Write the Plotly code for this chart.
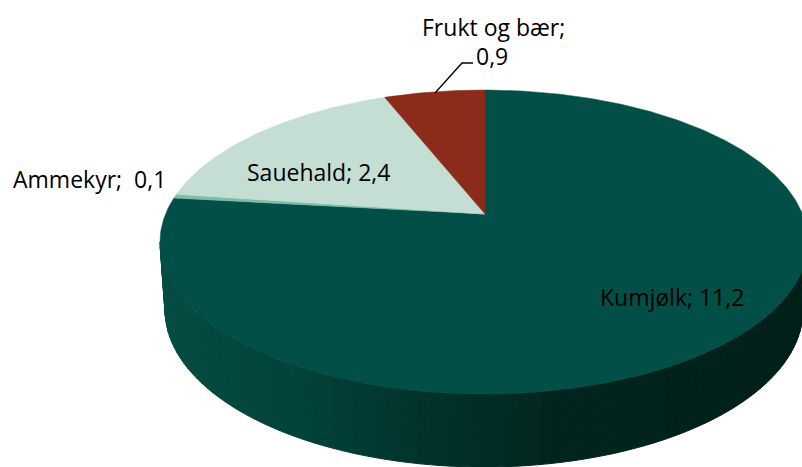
import numpy as np
import plotly.graph_objects as go

categories = ["Kumjølk", "Ammekyr", "Sauehald", "Frukt og bær"]
values = [11.2, 0.06, 2.44, 0.9]
value_labels = ["11,2", "0,1", "2,4", "0,9"]
colors = ["#014f46", "#7dbda5", "#c5ded4", "#8b2b1a"]

W, H = 802, 467
APEX = (485.0, 214.0)
TOP = dict(cx=484.0, cy=242.0, rx=324.0, ry=152.0)
BOT = dict(cx=484.0, cy=310.0, rx=319.0, ry=157.0)
TILT = 2.11


def ray_to_rim(theta):
    """Screen point on the top rim for a pie angle (clockwise from 12 o'clock)."""
    dx, dy = TILT * np.sin(theta), -np.cos(theta)
    ox, oy = (APEX[0] - TOP["cx"]) / TOP["rx"], (APEX[1] - TOP["cy"]) / TOP["ry"]
    ux, uy = dx / TOP["rx"], dy / TOP["ry"]
    a = ux * ux + uy * uy
    b = 2 * (ox * ux + oy * uy)
    c = ox * ox + oy * oy - 1
    t = (-b + np.sqrt(b * b - 4 * a * c)) / (2 * a)
    return APEX[0] + t * dx, APEX[1] + t * dy


def ellipse(e, t):
    return e["cx"] + e["rx"] * np.cos(t), e["cy"] + e["ry"] * np.sin(t)


def wall_color(x):
    stops_x = [160, 300, 400, 480, 560, 802]
    r = np.interp(x, stops_x, [4, 2, 1, 1, 1, 1])
    g = np.interp(x, stops_x, [76, 66, 54, 45, 37, 31])
    b = np.interp(x, stops_x, [66, 57, 47, 39, 30, 25])
    return f"rgb({r:.0f},{g:.0f},{b:.0f})"


fig = go.Figure()

# Side wall: thin vertical bands between the top rim and the bottom outline
params = np.linspace(np.pi, 0, 91)
for t0, t1 in zip(params[:-1], params[1:]):
    x0, y0 = ellipse(TOP, t0)
    x1, y1 = ellipse(TOP, t1)
    x2, y2 = ellipse(BOT, t1)
    x3, y3 = ellipse(BOT, t0)
    col = wall_color((x0 + x1 + x2 + x3) / 4)
    fig.add_trace(go.Scatter(
        x=[x0, x1, x2, x3, x0], y=[y0, y1, y2, y3, y0], mode="lines",
        fill="toself", fillcolor=col, line=dict(color=col, width=1),
        hoverinfo="skip", showlegend=False))

# Top face: slices run clockwise from 12 o'clock, angles come from the values
total = sum(values)
angles = np.concatenate([[0.0], np.cumsum(values)]) / total * 2 * np.pi
for name, color, a0, a1 in zip(categories, colors, angles[:-1], angles[1:]):
    n = max(3, int((a1 - a0) * 80))
    rim = [ray_to_rim(a) for a in np.linspace(a0, a1, n)]
    xs = [APEX[0]] + [p[0] for p in rim] + [APEX[0]]
    ys = [APEX[1]] + [p[1] for p in rim] + [APEX[1]]
    fig.add_trace(go.Scatter(
        x=xs, y=ys, mode="lines", fill="toself", fillcolor=color,
        line=dict(color=color, width=0.5), name=name,
        hoverinfo="skip", showlegend=False))

# Leader line for Frukt og bær
fig.add_trace(go.Scatter(
    x=[435, 462, 473], y=[93, 63, 63], mode="lines",
    line=dict(color="#000000", width=1.3), hoverinfo="skip", showlegend=False))

label_font = dict(family="'Open Sans', Lato, sans-serif", size=23, color="#000000")
label_pos = {
    "Kumjølk": (672, 297),
    "Ammekyr": (89, 179),
    "Sauehald": (318, 172),
}
for name, val in zip(categories, value_labels):
    if name in label_pos:
        x, y = label_pos[name]
        sep = "; " if name != "Ammekyr" else ";  "
        fig.add_annotation(x=x, y=y, text=f"{name}{sep}{val}",
                           showarrow=False, font=label_font, xanchor="center", yanchor="middle")
fig.add_annotation(x=493, y=27, text=f"{categories[3]};", showarrow=False, font=label_font,
                   xanchor="center", yanchor="middle")
fig.add_annotation(x=492, y=56, text=value_labels[3], showarrow=False, font=label_font,
                   xanchor="center", yanchor="middle")

fig.update_layout(
    width=W, height=H, margin=dict(l=0, r=0, t=0, b=0),
    paper_bgcolor="#ffffff", plot_bgcolor="#ffffff", showlegend=False,
    xaxis=dict(range=[0, W], visible=False, fixedrange=True),
    yaxis=dict(range=[H, 0], visible=False, fixedrange=True),
)
fig.write_html("out.html", config=dict(displayModeBar=False),
               post_script="document.body.style.margin='0';document.documentElement.style.overflow='hidden';")
